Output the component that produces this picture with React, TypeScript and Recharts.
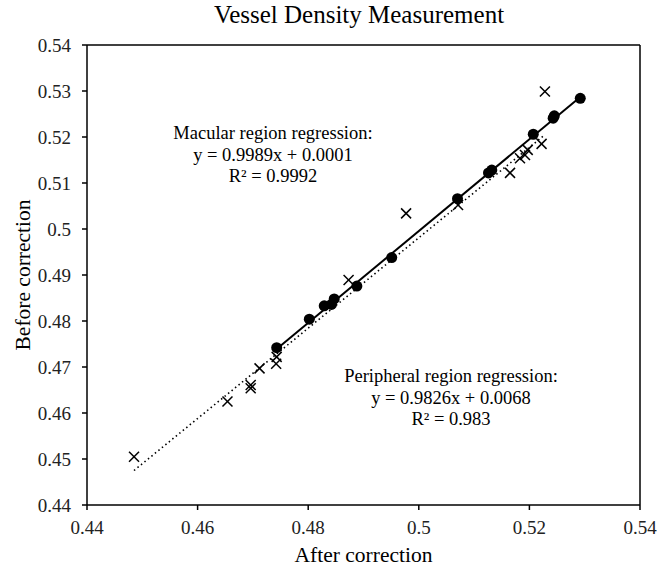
import React from 'react';
import { ScatterChart, Scatter, XAxis, YAxis, ReferenceLine } from 'recharts';

// Macular region (filled circles)
const macularX = [0.4743, 0.4802, 0.4829, 0.4842, 0.4847, 0.4888, 0.4951, 0.507, 0.5126, 0.5132, 0.5207, 0.5243, 0.5245, 0.5292];
const macularY = [0.4742, 0.4804, 0.4833, 0.4836, 0.4848, 0.4876, 0.4938, 0.5066, 0.5122, 0.5128, 0.5206, 0.5241, 0.5246, 0.5284];

// Peripheral region (crosses)
const peripheralX = [0.4485, 0.4654, 0.4696, 0.4696, 0.4712, 0.4742, 0.4743, 0.4873, 0.4977, 0.5071, 0.5165, 0.5183, 0.5192, 0.5197, 0.5222, 0.5228];
const peripheralY = [0.4505, 0.4625, 0.4654, 0.4661, 0.4697, 0.4707, 0.4722, 0.4889, 0.5034, 0.5052, 0.5122, 0.5154, 0.5161, 0.5172, 0.5185, 0.5299];

// regression line end points
const macularFitX = [0.4743, 0.5292];
const macularFitY = [0.4739, 0.5287];
const peripheralFitX = [0.4485, 0.5228];
const peripheralFitY = [0.4475, 0.5205];

const xTicks = [0.44, 0.46, 0.48, 0.5, 0.52, 0.54];
const yTicks = [0.44, 0.45, 0.46, 0.47, 0.48, 0.49, 0.5, 0.51, 0.52, 0.53, 0.54];

const toPoints = (xs: number[], ys: number[]) => xs.map((x, i) => ({ x, y: ys[i] }));

const macular = toPoints(macularX, macularY);
const peripheral = toPoints(peripheralX, peripheralY);
const macularFit = toPoints(macularFitX, macularFitY);
const peripheralFit = toPoints(peripheralFitX, peripheralFitY);

const FONT = '"Liberation Serif", "Times New Roman", serif';

const Dot = (props: any) => <circle cx={props.cx} cy={props.cy} r={5.5} fill="#000" />;
const Cross = (props: any) => {
  const { cx, cy } = props;
  const s = 5;
  return (
    <g stroke="#000" strokeWidth={1.5}>
      <line x1={cx - s} y1={cy - s} x2={cx + s} y2={cy + s} />
      <line x1={cx - s} y1={cy + s} x2={cx + s} y2={cy - s} />
    </g>
  );
};
const NoShape = () => <g />;

const fmt = (v: number) => String(Number(v.toFixed(2)));

const textBlock = (left: number, top: number, lines: string[]) => (
  <div
    style={{
      position: 'absolute', left: left - 150, top, width: 300, textAlign: 'center',
      fontFamily: FONT, fontSize: 18.5, lineHeight: '21.5px', color: '#000',
    }}
  >
    {lines.map((l, i) => <div key={i}>{l}</div>)}
  </div>
);

export default function App() {
  return (
    <div style={{ position: 'absolute', left: 0, top: 0, width: 657, height: 571, background: '#fff' }}>
      <div style={{ position: 'absolute', left: 0, top: 0, width: 718, textAlign: 'center', fontFamily: FONT, fontSize: 25, lineHeight: '30px', color: '#000' }}>
        Vessel Density Measurement
      </div>
      <ScatterChart width={657} height={571} margin={{ top: 45, right: 17, bottom: 6, left: 7 }}>
        <XAxis
          type="number" dataKey="x" domain={[0.44, 0.54]} ticks={xTicks} tickFormatter={fmt}
          height={60} tickSize={5} tickMargin={11} stroke="#000" strokeWidth={1.5}
          tick={{ fill: '#222', fontFamily: FONT, fontSize: 19 }} allowDataOverflow
          label={{ value: 'After correction', position: 'insideBottom', offset: 3, fill: '#000', fontFamily: FONT, fontSize: 21.5 }}
        />
        <YAxis
          type="number" dataKey="y" domain={[0.44, 0.54]} ticks={yTicks} tickFormatter={fmt}
          width={80} tickSize={5} tickMargin={11} stroke="#000" strokeWidth={1.5}
          tick={{ fill: '#222', fontFamily: FONT, fontSize: 19 }} allowDataOverflow
          label={{ value: 'Before correction', angle: -90, position: 'insideLeft', offset: 15, fill: '#000', fontFamily: FONT, fontSize: 21.5, style: { textAnchor: 'middle' } }}
        />
        <ReferenceLine y={0.54} stroke="#000" strokeWidth={1.5} />
        <ReferenceLine x={0.54} stroke="#000" strokeWidth={1.5} />
        <Scatter data={peripheralFit} shape={NoShape} line={{ stroke: '#000', strokeWidth: 1.6, strokeDasharray: '1.5 3' }} isAnimationActive={false} />
        <Scatter data={macularFit} shape={NoShape} line={{ stroke: '#000', strokeWidth: 2 }} isAnimationActive={false} />
        <Scatter data={peripheral} shape={Cross} isAnimationActive={false} />
        <Scatter data={macular} shape={Dot} isAnimationActive={false} />
      </ScatterChart>
      {textBlock(273, 123, ['Macular region regression:', 'y = 0.9989x + 0.0001', 'R² = 0.9992'])}
      {textBlock(451, 366, ['Peripheral region regression:', 'y = 0.9826x + 0.0068', 'R² = 0.983'])}
    </div>
  );
}
